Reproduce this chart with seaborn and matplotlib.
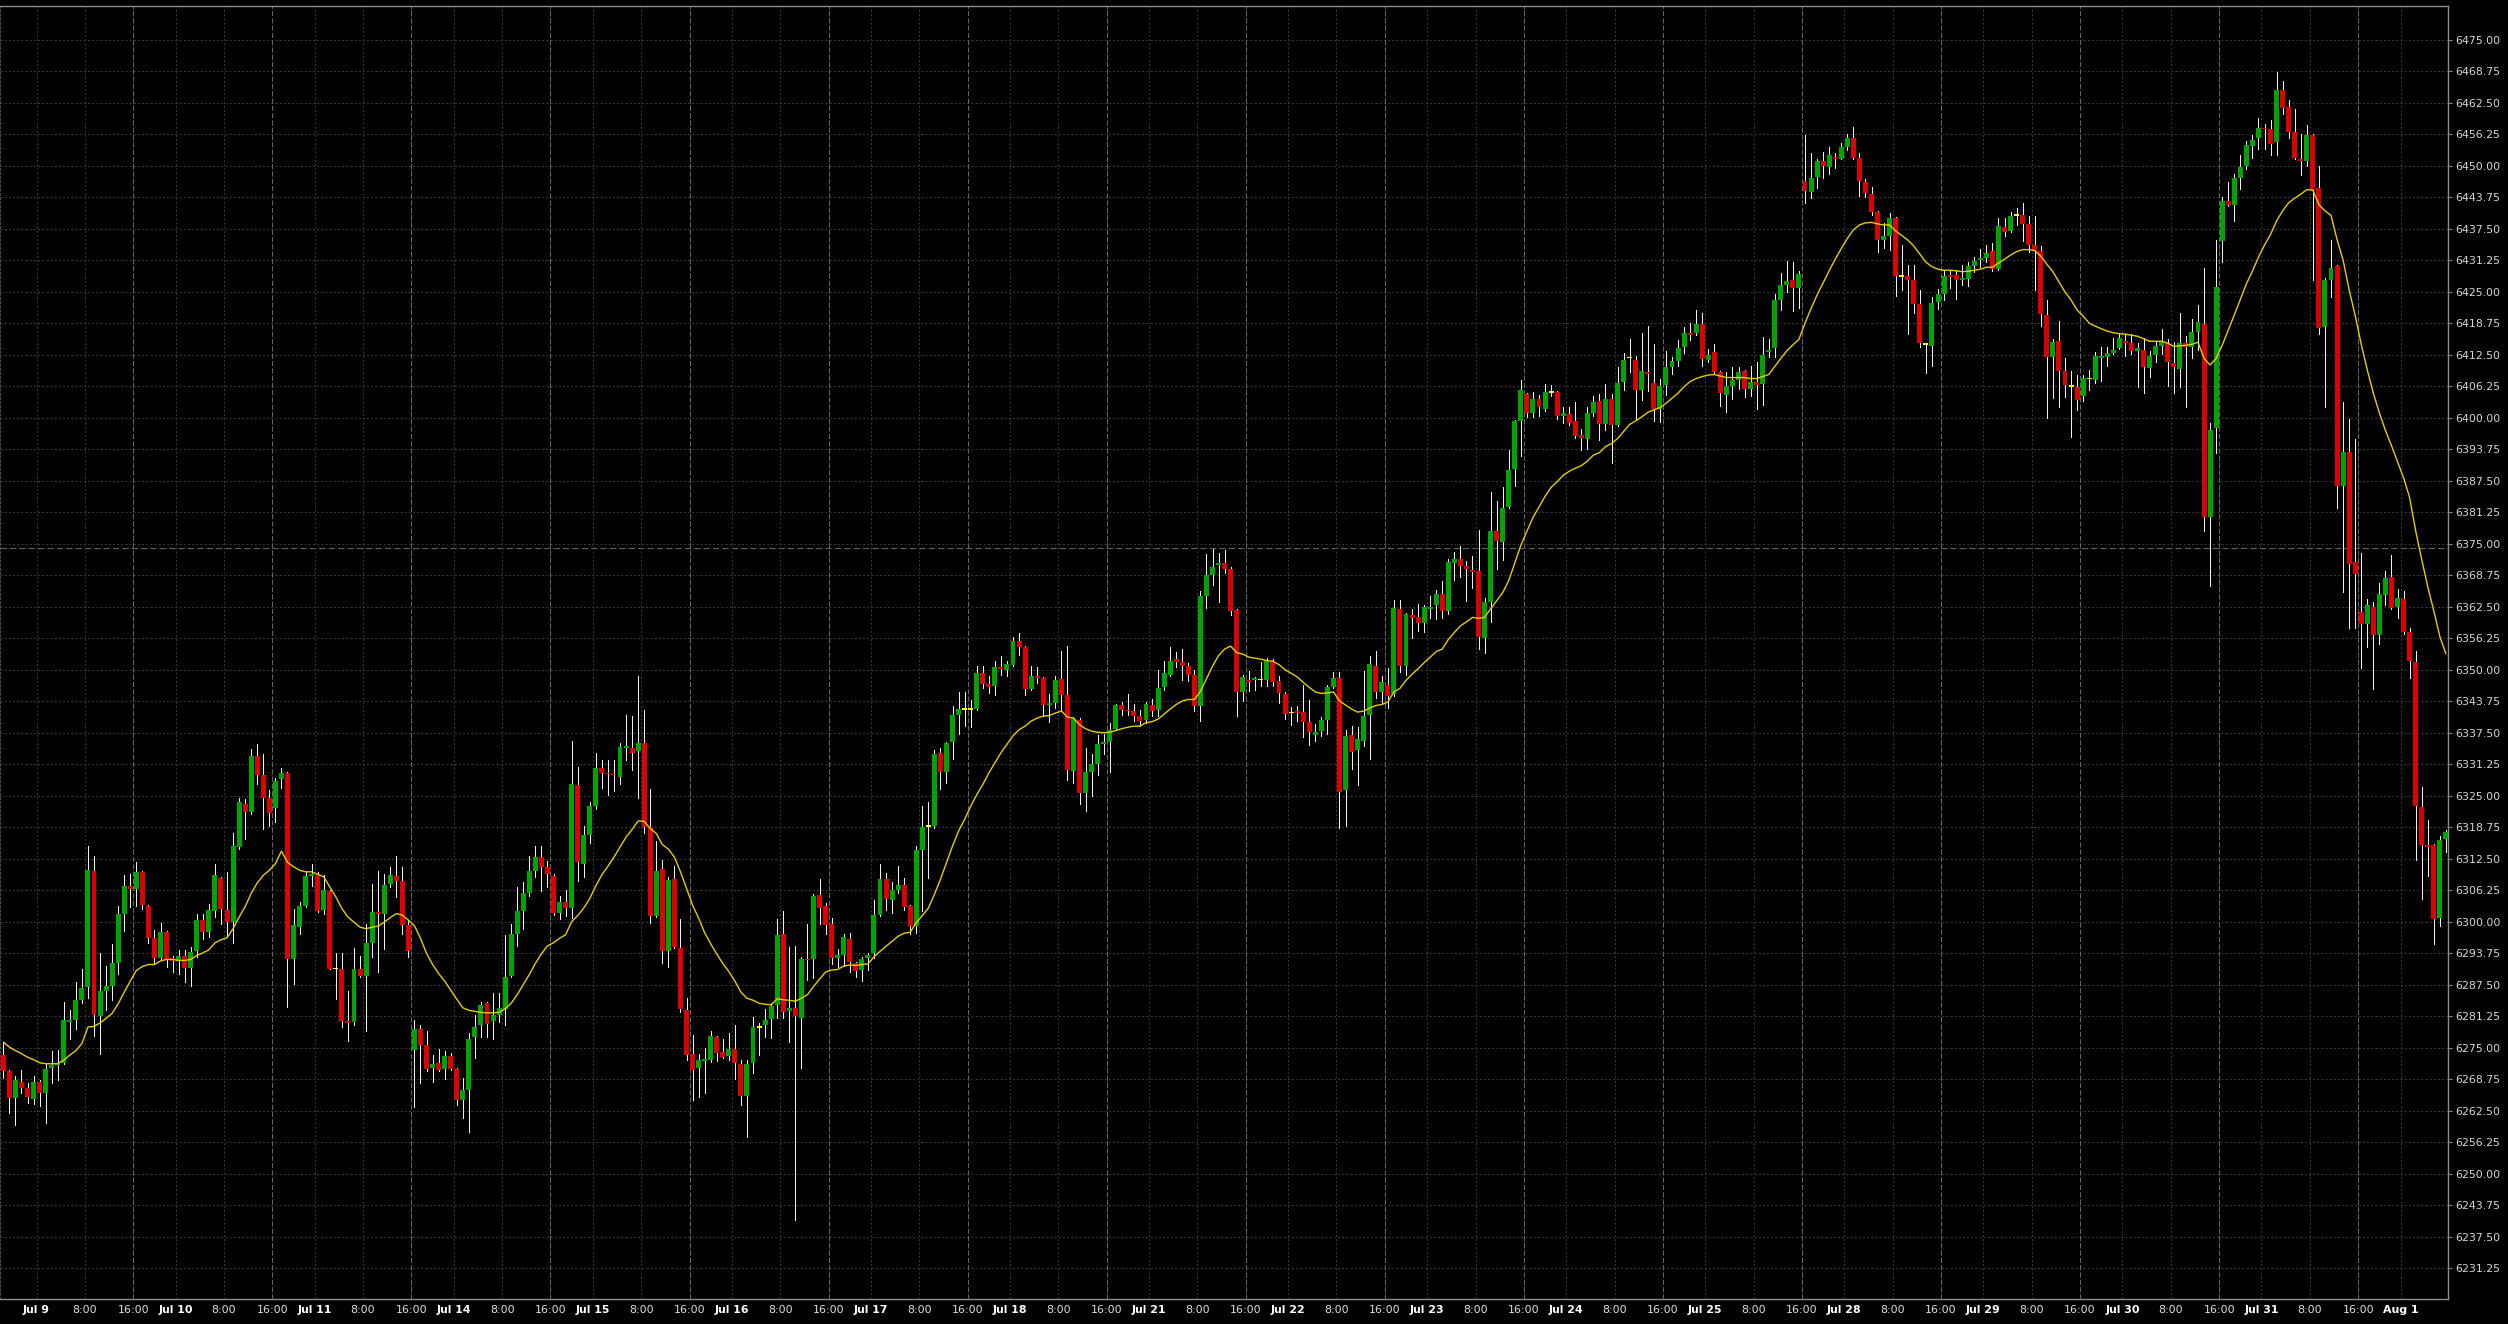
import numpy as np
import pandas as pd
import matplotlib
matplotlib.use("Agg")
import matplotlib.pyplot as plt
import seaborn as sns

# hourly candles, session 17:00-16:00; first bar is Jul 8 18:00
session_days = ['Jul 9', 'Jul 10', 'Jul 11', 'Jul 14', 'Jul 15', 'Jul 16', 'Jul 17', 'Jul 18', 'Jul 21',
                'Jul 22', 'Jul 23', 'Jul 24', 'Jul 25', 'Jul 28', 'Jul 29', 'Jul 30', 'Jul 31', 'Aug 1']
bars_before_first_day = 6
bars_per_session = 23

opens = [
    6273.5, 6270.3, 6265.0, 6268.1, 6266.9, 6264.8, 6268.1, 6265.9, 6271.0, 6271.6,
    6272.0, 6280.1, 6280.4, 6284.4, 6287.0, 6310.0, 6281.3, 6286.2, 6287.2, 6291.7,
    6301.5, 6307.0, 6306.4, 6309.8, 6303.2, 6296.8, 6292.8, 6297.9, 6292.7, 6292.2,
    6293.1, 6290.9, 6294.2, 6300.4, 6297.9, 6302.1, 6308.7, 6302.3, 6299.9, 6314.8,
    6323.4, 6321.7, 6332.8, 6329.2, 6324.5, 6322.6, 6328.3, 6329.6, 6292.6, 6298.9,
    6303.2, 6309.0, 6309.2, 6302.3, 6306.0, 6290.6, 6290.7, 6280.3, 6280.1, 6290.6,
    6289.2, 6295.8, 6302.0, 6301.5, 6307.4, 6309.0, 6308.0, 6299.3, 6274.5, 6278.6,
    6275.6, 6271.0, 6271.9, 6270.8, 6273.4, 6270.8, 6264.6, 6266.6, 6277.1, 6279.4,
    6283.8, 6280.2, 6281.4, 6282.7, 6289.3, 6297.5, 6302.2, 6305.7, 6310.0, 6312.9,
    6310.8, 6309.0, 6301.8, 6304.0, 6302.7, 6327.1, 6311.5, 6317.2, 6322.9, 6330.4,
    6329.6, 6329.4, 6328.8, 6334.5, 6334.4, 6333.9, 6335.4, 6318.8, 6301.2, 6310.4,
    6294.1, 6308.4, 6294.8, 6282.5, 6273.8, 6270.9, 6272.3, 6272.5, 6277.2, 6274.1,
    6273.4, 6274.7, 6271.7, 6265.4, 6271.9, 6278.9, 6279.4, 6280.7, 6283.5, 6297.5,
    6282.2, 6282.9, 6280.8, 6292.6, 6292.6, 6305.3, 6303.2, 6299.6, 6292.7, 6293.4,
    6296.6, 6291.7, 6290.4, 6292.7, 6293.7, 6301.4, 6308.5, 6304.3, 6306.3, 6307.2,
    6303.2, 6299.1, 6314.3, 6318.8, 6319.0, 6333.4, 6329.7, 6335.6, 6341.1, 6342.1,
    6342.1, 6342.3, 6349.4, 6347.1, 6346.7, 6350.6, 6349.9, 6350.9, 6355.8, 6354.5,
    6346.1, 6348.7, 6348.4, 6343.0, 6343.4, 6348.1, 6344.9, 6329.9, 6340.1, 6325.6,
    6329.8, 6331.2, 6335.2, 6335.6, 6338.3, 6343.0, 6342.1, 6341.9, 6340.9, 6340.0,
    6343.1, 6342.1, 6346.5, 6349.0, 6352.2, 6351.6, 6350.8, 6349.0, 6342.8, 6364.7,
    6368.8, 6370.7, 6371.1, 6370.0, 6361.9, 6345.6, 6347.9, 6347.9, 6347.9, 6347.9,
    6351.6, 6347.7, 6345.1, 6341.4, 6341.8, 6341.6, 6339.7, 6337.1, 6337.8, 6340.0,
    6346.5, 6348.4, 6326.2, 6337.1, 6334.0, 6335.8, 6341.1, 6350.8, 6345.6, 6347.0,
    6345.1, 6362.1, 6350.8, 6360.9, 6360.5, 6359.2, 6362.1, 6362.8, 6365.1, 6361.6,
    6371.1, 6371.9, 6370.5, 6369.8, 6369.6, 6356.4, 6363.5, 6377.5, 6375.4, 6382.3,
    6389.8, 6399.4, 6404.7, 6401.0, 6403.8, 6401.8, 6405.0, 6405.2, 6400.4, 6400.8,
    6399.4, 6396.5, 6395.9, 6401.0, 6403.4, 6398.7, 6403.8, 6398.5, 6407.2, 6411.8,
    6411.4, 6405.5, 6409.1, 6407.0, 6401.8, 6406.5, 6410.0, 6411.3, 6414.0, 6416.8,
    6416.8, 6418.6, 6411.5, 6413.0, 6409.2, 6404.5, 6406.3, 6407.5, 6409.3, 6405.7,
    6407.2, 6406.7, 6413.0, 6413.9, 6423.4, 6426.4, 6427.4, 6425.8, 6447.0, 6444.9,
    6447.9, 6451.0, 6449.8, 6451.8, 6451.4, 6453.8, 6455.5, 6451.6, 6446.9, 6444.5,
    6440.9, 6435.3, 6436.1, 6439.7, 6428.0, 6428.2, 6427.4, 6422.6, 6414.5, 6414.3,
    6422.9, 6424.6, 6428.3, 6428.3, 6427.4, 6427.5, 6430.1, 6431.3, 6431.7, 6433.1,
    6429.5, 6437.9, 6437.1, 6440.1, 6440.3, 6438.5, 6434.3, 6433.1, 6420.4, 6412.1,
    6415.2, 6409.3, 6406.2, 6406.1, 6404.4, 6407.7, 6407.5, 6411.9, 6412.1, 6412.8,
    6413.9, 6415.2, 6414.9, 6413.3, 6413.4, 6409.9, 6412.5, 6414.2, 6414.9, 6410.9,
    6409.6, 6414.8, 6414.1, 6417.1, 6418.7, 6380.4, 6397.9, 6435.1, 6443.0, 6442.2,
    6447.6, 6449.9, 6453.9, 6455.6, 6457.6, 6457.3, 6454.8, 6465.0, 6461.8, 6456.7,
    6451.4, 6451.0, 6456.1, 6445.6, 6418.0, 6427.3, 6430.2, 6386.5, 6393.2, 6371.4,
    6361.5, 6359.1, 6362.5, 6356.8, 6364.9, 6368.5, 6362.5, 6364.0, 6357.5, 6351.6,
    6322.8, 6315.3, 6315.3, 6300.8, 6316.4,
]
highs = [
    6276.1, 6270.5, 6269.3, 6270.6, 6268.0, 6269.4, 6268.6, 6271.8, 6274.3, 6274.5,
    6284.0, 6282.4, 6288.0, 6290.7, 6315.1, 6313.0, 6293.7, 6291.2, 6295.6, 6303.2,
    6309.3, 6309.5, 6311.8, 6310.1, 6303.4, 6298.3, 6299.7, 6298.1, 6293.1, 6294.3,
    6294.4, 6295.0, 6301.5, 6301.5, 6303.6, 6311.4, 6308.9, 6309.9, 6317.5, 6324.5,
    6324.4, 6334.3, 6335.3, 6333.3, 6326.1, 6328.6, 6330.4, 6329.8, 6302.5, 6304.0,
    6309.9, 6311.4, 6309.9, 6309.2, 6306.2, 6293.8, 6293.7, 6286.2, 6294.8, 6293.1,
    6299.6, 6307.5, 6310.0, 6309.4, 6310.9, 6313.0, 6310.9, 6300.3, 6280.5, 6279.4,
    6278.3, 6273.6, 6274.7, 6274.3, 6274.0, 6271.0, 6269.0, 6277.8, 6281.4, 6284.1,
    6284.1, 6285.8, 6285.8, 6297.4, 6299.6, 6306.8, 6307.8, 6313.0, 6315.0, 6315.0,
    6312.0, 6309.5, 6305.1, 6306.3, 6335.8, 6330.6, 6318.9, 6323.8, 6333.4, 6332.1,
    6332.0, 6332.1, 6335.5, 6341.1, 6340.8, 6348.8, 6342.1, 6326.4, 6316.0, 6312.2,
    6308.8, 6311.0, 6300.6, 6284.9, 6277.6, 6273.8, 6275.0, 6278.2, 6277.4, 6276.7,
    6277.9, 6279.5, 6272.6, 6272.5, 6281.1, 6279.8, 6282.6, 6283.8, 6300.5, 6302.1,
    6295.0, 6295.1, 6292.9, 6299.6, 6305.5, 6308.5, 6303.7, 6300.8, 6294.6, 6297.5,
    6297.8, 6292.0, 6293.0, 6293.8, 6304.3, 6311.5, 6309.6, 6307.9, 6311.1, 6308.6,
    6303.3, 6315.1, 6322.9, 6323.7, 6334.0, 6334.5, 6335.6, 6342.9, 6345.6, 6345.5,
    6343.9, 6350.8, 6350.7, 6348.7, 6351.8, 6352.8, 6351.8, 6356.5, 6357.2, 6354.8,
    6350.8, 6350.5, 6348.5, 6345.1, 6348.8, 6353.7, 6354.8, 6340.6, 6340.4, 6334.4,
    6333.2, 6337.1, 6337.3, 6339.5, 6343.3, 6343.6, 6345.1, 6343.3, 6342.1, 6343.6,
    6344.2, 6349.9, 6351.7, 6354.5, 6353.6, 6354.2, 6351.4, 6350.0, 6365.7, 6372.9,
    6374.0, 6373.1, 6373.8, 6370.4, 6362.0, 6348.9, 6349.8, 6348.6, 6351.6, 6352.3,
    6352.1, 6348.8, 6345.6, 6342.7, 6342.8, 6347.0, 6344.0, 6339.3, 6340.7, 6347.0,
    6349.5, 6349.5, 6338.1, 6338.8, 6338.6, 6349.8, 6352.8, 6353.8, 6348.8, 6350.3,
    6363.9, 6363.9, 6361.3, 6362.1, 6363.0, 6362.8, 6364.6, 6365.8, 6367.7, 6371.9,
    6373.4, 6374.5, 6371.5, 6372.6, 6377.8, 6364.2, 6385.3, 6383.4, 6386.2, 6393.7,
    6399.6, 6407.5, 6404.9, 6405.2, 6404.6, 6406.7, 6406.6, 6405.3, 6402.2, 6402.2,
    6403.1, 6397.8, 6402.2, 6404.3, 6404.7, 6406.7, 6404.7, 6410.0, 6412.8, 6415.6,
    6412.3, 6416.8, 6418.2, 6414.6, 6407.8, 6413.3, 6412.1, 6415.4, 6418.1, 6418.9,
    6421.4, 6420.9, 6413.6, 6414.6, 6409.3, 6409.2, 6410.0, 6410.0, 6409.4, 6410.3,
    6411.0, 6416.0, 6415.6, 6424.6, 6428.7, 6431.1, 6431.0, 6429.2, 6456.1, 6452.6,
    6451.3, 6452.8, 6453.7, 6452.6, 6454.6, 6456.3, 6457.8, 6452.6, 6447.4, 6445.9,
    6441.0, 6438.6, 6440.6, 6439.9, 6434.3, 6430.3, 6430.3, 6425.4, 6414.8, 6423.9,
    6425.5, 6429.1, 6429.2, 6429.2, 6430.3, 6431.0, 6432.0, 6433.6, 6434.3, 6434.8,
    6439.7, 6439.7, 6440.9, 6441.6, 6442.6, 6440.0, 6440.0, 6434.2, 6423.4, 6415.6,
    6419.2, 6411.8, 6409.3, 6408.5, 6408.5, 6409.5, 6413.1, 6414.1, 6414.1, 6415.9,
    6416.7, 6416.7, 6416.7, 6414.8, 6415.9, 6413.2, 6415.2, 6417.6, 6415.7, 6415.0,
    6420.9, 6416.2, 6419.7, 6422.4, 6429.8, 6398.9, 6435.3, 6443.9, 6446.8, 6448.4,
    6452.1, 6455.0, 6456.1, 6459.5, 6458.4, 6459.2, 6468.6, 6466.9, 6463.0, 6461.3,
    6456.4, 6458.1, 6456.4, 6449.9, 6427.7, 6435.3, 6430.4, 6403.2, 6399.8, 6395.8,
    6373.1, 6364.0, 6363.4, 6367.2, 6369.7, 6372.7, 6366.0, 6365.7, 6358.3, 6353.7,
    6326.7, 6320.2, 6315.5, 6317.1, 6318.2,
]
lows = [
    6268.9, 6262.0, 6259.7, 6265.9, 6264.0, 6263.9, 6263.4, 6260.1, 6267.9, 6268.5,
    6271.7, 6276.8, 6278.6, 6283.9, 6284.9, 6277.3, 6273.8, 6282.4, 6284.4, 6289.7,
    6298.1, 6302.9, 6303.2, 6302.6, 6295.8, 6291.7, 6292.3, 6291.0, 6290.0, 6289.7,
    6288.0, 6287.2, 6293.0, 6296.6, 6297.0, 6300.9, 6299.6, 6297.0, 6295.8, 6314.5,
    6316.4, 6321.4, 6327.4, 6318.4, 6318.9, 6319.8, 6326.5, 6283.1, 6287.6, 6297.6,
    6302.9, 6307.0, 6301.9, 6301.6, 6290.6, 6284.7, 6279.0, 6276.3, 6279.4, 6289.0,
    6278.3, 6293.0, 6290.0, 6294.6, 6306.9, 6304.9, 6297.6, 6293.0, 6263.2, 6267.9,
    6270.4, 6268.1, 6270.3, 6268.8, 6270.6, 6263.7, 6261.1, 6258.2, 6272.9, 6277.2,
    6277.2, 6276.7, 6280.0, 6279.4, 6289.0, 6295.2, 6298.6, 6305.1, 6308.9, 6306.0,
    6306.9, 6301.4, 6300.5, 6301.2, 6300.7, 6308.0, 6308.8, 6315.6, 6322.3, 6326.6,
    6325.2, 6326.0, 6327.4, 6332.1, 6330.1, 6324.5, 6317.5, 6299.7, 6301.0, 6291.7,
    6291.0, 6294.8, 6282.0, 6272.5, 6264.6, 6265.2, 6265.9, 6272.1, 6272.3, 6272.9,
    6272.5, 6268.8, 6263.7, 6257.2, 6269.9, 6273.6, 6277.2, 6277.0, 6280.9, 6280.9,
    6276.1, 6240.8, 6270.9, 6288.5, 6288.8, 6299.6, 6297.5, 6291.5, 6291.0, 6291.2,
    6290.0, 6289.1, 6288.2, 6290.5, 6292.8, 6301.1, 6302.3, 6301.8, 6305.7, 6302.4,
    6297.5, 6297.7, 6302.1, 6308.7, 6318.6, 6326.4, 6327.5, 6332.2, 6337.3, 6338.8,
    6338.7, 6342.1, 6346.4, 6345.4, 6344.9, 6348.9, 6348.7, 6350.7, 6353.0, 6344.9,
    6345.9, 6347.4, 6340.9, 6339.6, 6342.4, 6342.1, 6328.2, 6327.5, 6323.4, 6321.9,
    6324.9, 6329.2, 6333.2, 6329.7, 6338.1, 6341.1, 6341.1, 6339.9, 6338.8, 6339.5,
    6340.9, 6340.9, 6345.9, 6348.7, 6350.5, 6347.9, 6347.7, 6341.8, 6339.8, 6362.3,
    6366.9, 6363.4, 6369.2, 6360.9, 6340.9, 6343.7, 6345.8, 6346.0, 6346.8, 6346.7,
    6346.7, 6343.5, 6340.2, 6339.0, 6339.9, 6336.7, 6335.1, 6335.8, 6336.9, 6337.2,
    6346.3, 6318.5, 6319.0, 6330.3, 6327.2, 6334.9, 6332.2, 6344.4, 6343.4, 6342.5,
    6344.7, 6349.6, 6348.9, 6356.4, 6357.6, 6357.4, 6360.2, 6360.1, 6360.3, 6361.0,
    6367.9, 6368.4, 6363.7, 6366.2, 6354.1, 6353.4, 6359.4, 6369.9, 6371.7, 6382.2,
    6386.5, 6392.4, 6400.2, 6400.2, 6400.4, 6401.4, 6404.3, 6399.7, 6398.9, 6398.5,
    6396.1, 6393.6, 6393.8, 6400.4, 6395.6, 6397.6, 6391.0, 6398.3, 6405.6, 6409.1,
    6399.7, 6403.6, 6405.4, 6399.4, 6399.2, 6404.5, 6408.8, 6410.2, 6412.9, 6415.4,
    6416.4, 6410.3, 6411.1, 6408.8, 6402.4, 6401.2, 6403.7, 6405.7, 6404.1, 6404.4,
    6401.7, 6402.6, 6412.0, 6412.1, 6421.4, 6425.0, 6421.2, 6421.9, 6442.7, 6443.7,
    6445.7, 6447.7, 6448.5, 6449.6, 6451.3, 6453.1, 6451.3, 6444.0, 6443.8, 6440.3,
    6433.0, 6433.8, 6433.3, 6424.2, 6425.4, 6416.6, 6420.9, 6414.0, 6409.0, 6410.3,
    6421.6, 6423.3, 6425.7, 6423.6, 6426.4, 6426.2, 6429.0, 6430.0, 6431.0, 6429.1,
    6429.3, 6436.1, 6436.9, 6438.3, 6435.2, 6433.0, 6425.4, 6418.2, 6399.9, 6404.0,
    6402.2, 6404.2, 6396.2, 6401.5, 6403.4, 6405.6, 6406.9, 6407.3, 6410.3, 6412.6,
    6413.6, 6412.2, 6412.6, 6406.2, 6405.0, 6408.1, 6411.1, 6412.6, 6406.4, 6405.0,
    6406.2, 6402.2, 6411.9, 6413.4, 6377.6, 6366.7, 6393.1, 6431.0, 6442.0, 6439.1,
    6445.5, 6449.3, 6451.6, 6453.3, 6453.3, 6452.1, 6452.1, 6460.3, 6455.6, 6451.4,
    6448.2, 6449.9, 6427.3, 6416.7, 6402.1, 6423.9, 6382.2, 6365.5, 6358.3, 6358.3,
    6350.3, 6354.6, 6346.1, 6355.2, 6362.8, 6362.0, 6360.3, 6357.1, 6348.4, 6312.2,
    6304.5, 6309.0, 6295.5, 6299.1, 6313.9,
]
closes = [
    6270.4, 6265.0, 6268.5, 6267.0, 6265.2, 6268.1, 6265.9, 6270.8, 6271.6, 6272.0,
    6280.4, 6280.4, 6284.4, 6286.8, 6310.2, 6281.4, 6286.2, 6287.2, 6291.7, 6301.5,
    6307.0, 6306.4, 6309.8, 6303.4, 6296.8, 6292.8, 6297.9, 6292.6, 6292.2, 6293.1,
    6290.9, 6293.9, 6300.3, 6297.9, 6302.3, 6309.2, 6302.5, 6299.9, 6315.0, 6323.7,
    6321.7, 6332.8, 6329.2, 6324.5, 6321.6, 6328.0, 6329.6, 6292.6, 6299.3, 6303.2,
    6309.0, 6309.4, 6302.1, 6306.2, 6290.7, 6290.6, 6280.3, 6279.9, 6290.7, 6289.2,
    6295.8, 6302.0, 6301.5, 6307.3, 6309.2, 6308.0, 6299.3, 6294.2, 6278.6, 6275.6,
    6270.8, 6271.7, 6270.6, 6273.4, 6270.8, 6264.6, 6266.6, 6276.7, 6279.1, 6283.5,
    6279.6, 6281.4, 6282.9, 6289.0, 6297.5, 6302.2, 6305.6, 6310.0, 6312.8, 6310.8,
    6309.5, 6301.8, 6304.0, 6302.7, 6327.3, 6311.8, 6317.2, 6322.9, 6330.4, 6329.5,
    6329.3, 6329.1, 6334.6, 6334.8, 6333.5, 6335.4, 6318.8, 6301.2, 6310.1, 6294.1,
    6308.2, 6295.0, 6282.6, 6273.6, 6270.6, 6272.6, 6272.7, 6277.3, 6274.0, 6273.1,
    6274.7, 6272.0, 6265.4, 6271.7, 6279.1, 6278.9, 6280.5, 6283.3, 6297.4, 6282.0,
    6282.9, 6281.3, 6292.6, 6292.3, 6305.1, 6302.7, 6299.4, 6292.7, 6293.4, 6296.9,
    6292.0, 6290.2, 6292.6, 6293.3, 6301.4, 6308.5, 6304.5, 6306.2, 6307.2, 6302.9,
    6299.1, 6314.3, 6318.8, 6318.8, 6333.2, 6329.7, 6335.4, 6341.1, 6342.2, 6342.1,
    6342.1, 6349.4, 6347.1, 6346.5, 6350.5, 6350.2, 6351.2, 6355.8, 6354.5, 6346.1,
    6348.8, 6348.3, 6343.0, 6343.4, 6347.9, 6344.9, 6330.2, 6340.2, 6325.6, 6329.8,
    6331.2, 6335.2, 6335.6, 6338.1, 6343.0, 6342.1, 6341.8, 6340.8, 6339.9, 6343.3,
    6341.9, 6346.4, 6349.4, 6351.8, 6351.5, 6350.7, 6348.9, 6342.8, 6364.7, 6368.8,
    6370.4, 6371.1, 6370.0, 6361.6, 6345.6, 6348.6, 6347.5, 6348.4, 6347.9, 6351.7,
    6347.5, 6345.4, 6341.3, 6341.4, 6341.4, 6339.7, 6337.6, 6337.6, 6340.0, 6346.6,
    6348.4, 6325.7, 6336.9, 6333.6, 6336.3, 6340.9, 6351.2, 6345.6, 6347.5, 6344.7,
    6362.3, 6350.8, 6361.1, 6360.3, 6359.2, 6362.5, 6362.5, 6365.1, 6361.6, 6371.4,
    6372.0, 6370.5, 6369.9, 6369.5, 6356.6, 6363.5, 6377.5, 6375.5, 6382.1, 6389.6,
    6399.4, 6405.6, 6401.0, 6403.8, 6402.2, 6405.2, 6405.0, 6400.4, 6401.0, 6399.0,
    6396.4, 6396.0, 6401.0, 6403.1, 6398.7, 6403.8, 6398.5, 6407.0, 6411.4, 6411.8,
    6405.6, 6409.3, 6408.8, 6401.8, 6406.3, 6410.0, 6411.3, 6413.9, 6416.8, 6416.4,
    6418.6, 6411.6, 6412.5, 6409.2, 6404.9, 6406.3, 6407.5, 6409.2, 6405.7, 6407.2,
    6406.5, 6412.5, 6413.5, 6423.4, 6426.4, 6427.2, 6425.8, 6428.5, 6445.0, 6447.6,
    6451.0, 6450.0, 6452.2, 6451.4, 6453.7, 6455.5, 6451.6, 6447.1, 6444.7, 6440.9,
    6435.3, 6436.1, 6439.7, 6428.2, 6428.0, 6427.4, 6422.6, 6414.9, 6414.5, 6422.7,
    6424.6, 6428.2, 6428.0, 6427.4, 6427.7, 6430.1, 6431.1, 6431.7, 6432.8, 6429.5,
    6438.1, 6436.9, 6440.0, 6440.1, 6438.4, 6434.3, 6433.1, 6420.7, 6412.1, 6415.1,
    6409.3, 6406.5, 6406.2, 6403.5, 6407.9, 6407.7, 6412.2, 6412.2, 6412.9, 6413.4,
    6415.8, 6414.9, 6413.3, 6413.8, 6410.1, 6412.2, 6414.2, 6415.1, 6411.1, 6410.0,
    6414.8, 6414.1, 6417.1, 6419.1, 6380.4, 6397.6, 6425.9, 6443.0, 6442.2, 6447.6,
    6449.8, 6454.1, 6455.2, 6457.6, 6457.3, 6454.4, 6465.0, 6461.6, 6456.7, 6451.6,
    6451.0, 6456.1, 6445.3, 6417.8, 6427.3, 6429.7, 6386.5, 6393.2, 6371.0, 6369.1,
    6359.1, 6362.8, 6356.8, 6365.1, 6368.2, 6362.3, 6364.3, 6357.5, 6351.8, 6323.0,
    6315.3, 6314.8, 6300.6, 6316.2, 6317.7,
]
moving_avg = [
    6276.1, 6275.1, 6274.4, 6273.8, 6273.1, 6272.6, 6272.0, 6271.8, 6271.8, 6271.8,
    6272.5, 6273.5, 6274.4, 6275.8, 6279.1, 6279.2, 6279.9, 6280.8, 6281.8, 6283.7,
    6286.0, 6288.2, 6290.3, 6291.1, 6291.5, 6291.5, 6292.2, 6292.5, 6292.5, 6292.3,
    6292.3, 6292.5, 6293.3, 6293.8, 6294.4, 6295.8, 6296.4, 6296.8, 6298.6, 6300.9,
    6303.0, 6305.6, 6307.7, 6309.2, 6310.2, 6311.5, 6314.0, 6311.8, 6310.9, 6310.2,
    6309.9, 6309.9, 6309.4, 6308.9, 6306.9, 6304.9, 6302.6, 6300.9, 6299.9, 6298.9,
    6298.6, 6298.9, 6299.1, 6299.9, 6300.8, 6301.6, 6301.3, 6300.3, 6299.2, 6296.7,
    6293.7, 6291.5, 6289.7, 6288.2, 6286.4, 6284.6, 6282.9, 6282.4, 6282.2, 6282.0,
    6281.9, 6281.9, 6282.0, 6282.7, 6283.8, 6285.5, 6287.5, 6289.5, 6291.7, 6293.6,
    6295.2, 6295.8, 6296.7, 6297.4, 6300.0, 6301.2, 6302.7, 6304.6, 6307.1, 6309.3,
    6311.0, 6312.8, 6314.8, 6316.8, 6318.3, 6320.0, 6319.9, 6318.5, 6317.5, 6315.3,
    6314.4, 6312.8, 6309.9, 6306.6, 6303.3, 6300.7, 6297.8, 6295.6, 6293.6, 6291.7,
    6290.1, 6288.2, 6286.0, 6284.8, 6284.4, 6283.8, 6283.6, 6283.5, 6284.7, 6284.5,
    6284.4, 6284.2, 6284.8, 6285.5, 6287.1, 6288.6, 6290.0, 6290.4, 6290.5, 6291.2,
    6291.4, 6291.3, 6291.5, 6291.6, 6293.0, 6294.1, 6295.1, 6296.1, 6297.1, 6297.7,
    6297.9, 6299.8, 6301.2, 6302.7, 6305.4, 6308.4, 6311.7, 6315.0, 6318.0, 6320.3,
    6322.9, 6325.2, 6327.2, 6329.5, 6331.5, 6333.5, 6335.2, 6336.9, 6338.1, 6338.8,
    6339.8, 6340.4, 6340.8, 6340.9, 6341.4, 6341.8, 6340.6, 6340.4, 6339.1, 6338.3,
    6337.8, 6337.6, 6337.5, 6337.6, 6337.9, 6338.3, 6338.6, 6338.8, 6338.8, 6339.5,
    6339.7, 6340.2, 6341.2, 6342.2, 6343.1, 6343.8, 6344.1, 6344.1, 6345.7, 6348.2,
    6350.7, 6352.8, 6354.1, 6354.7, 6353.4, 6353.1, 6352.5, 6352.3, 6352.1, 6351.8,
    6351.7, 6351.0, 6350.0, 6349.3, 6348.6, 6347.5, 6346.5, 6345.6, 6345.3, 6345.4,
    6345.6, 6343.8, 6343.0, 6342.2, 6341.6, 6341.8, 6342.4, 6342.9, 6343.1, 6343.6,
    6345.6, 6346.3, 6347.9, 6349.1, 6350.2, 6351.4, 6352.5, 6353.6, 6354.1, 6356.0,
    6357.4, 6358.7, 6359.5, 6360.4, 6360.2, 6360.4, 6362.1, 6363.7, 6365.3, 6367.7,
    6371.2, 6374.7, 6377.5, 6380.2, 6382.3, 6384.4, 6386.2, 6387.3, 6388.6, 6389.4,
    6390.0, 6390.5, 6391.4, 6392.6, 6393.1, 6394.3, 6394.9, 6395.9, 6397.3, 6398.7,
    6399.4, 6400.2, 6401.1, 6401.6, 6402.0, 6402.9, 6403.9, 6404.9, 6406.2, 6407.2,
    6407.8, 6408.2, 6408.5, 6408.6, 6408.3, 6408.0, 6408.0, 6408.0, 6408.0, 6407.8,
    6407.8, 6408.2, 6408.6, 6410.2, 6411.8, 6413.3, 6414.5, 6415.6, 6418.8, 6421.7,
    6424.4, 6426.8, 6429.2, 6431.5, 6433.6, 6435.6, 6437.3, 6438.3, 6438.7, 6438.8,
    6438.5, 6438.3, 6438.3, 6437.1, 6436.2, 6435.3, 6434.1, 6432.5, 6430.9, 6430.0,
    6429.5, 6429.3, 6429.3, 6429.2, 6429.0, 6429.1, 6429.3, 6429.5, 6429.9, 6429.9,
    6430.7, 6431.5, 6432.3, 6433.0, 6433.4, 6433.4, 6433.2, 6432.1, 6430.5, 6429.0,
    6427.0, 6425.0, 6423.4, 6421.4, 6420.2, 6418.8, 6418.2, 6417.7, 6417.2, 6416.9,
    6416.7, 6416.6, 6416.4, 6416.2, 6415.7, 6415.2, 6415.2, 6415.2, 6414.8, 6414.2,
    6414.3, 6414.4, 6414.6, 6415.0, 6411.8, 6410.5, 6411.8, 6414.4, 6417.4, 6420.4,
    6423.5, 6426.6, 6429.1, 6431.9, 6434.3, 6436.4, 6439.1, 6441.1, 6442.7, 6443.6,
    6444.4, 6445.3, 6445.2, 6442.3, 6441.1, 6440.2, 6435.4, 6431.3, 6425.4, 6420.3,
    6414.6, 6409.5, 6404.9, 6401.0, 6397.5, 6394.5, 6391.3, 6388.1, 6384.2, 6377.6,
    6371.9, 6366.5, 6361.7, 6356.6, 6353.2,
]
level_line = 6374.25

df = pd.DataFrame({'open': opens, 'high': highs, 'low': lows, 'close': closes, 'ma': moving_avg})
df['bar'] = np.arange(len(df))

sns.set_style('dark', rc={'axes.facecolor': '#000000', 'figure.facecolor': '#000000'})
plt.rcParams['font.family'] = ['DejaVu Sans']

W, H = 2508, 1324
fig = plt.figure(figsize=(W / 100, H / 100), dpi=100)
ax = fig.add_axes([0, 25 / H, 2448.3 / W, 1293 / H])

# grid
yticks = np.arange(6231.25, 6475.01, 6.25)
for y in yticks:
    ax.axhline(y, color='#363636', lw=0.75, dashes=(2, 2), zorder=0)
ax.axhline(level_line, color='#646464', lw=0.75, dashes=(6, 3), zorder=0)

xpos, xlab, xbold = [], [], []
for d, name in enumerate(session_days):
    start = bars_before_first_day + d * bars_per_session
    for off, text, bold in [(-0.5, name, True), (7.5, '8:00', False), (15.5, '16:00', False)]:
        if start + off < 404.4:
            xpos.append(start + off)
            xlab.append(text)
            xbold.append(bold)
for x, t in zip(xpos, xlab):
    if t == '16:00':
        ax.axvline(x, color='#646464', lw=0.75, dashes=(5, 2), zorder=0)
    else:
        ax.axvline(x, color='#363636', lw=0.75, dashes=(2, 2), zorder=0)

# candles
ax.vlines(df['bar'], df['low'], df['high'], colors='#f0f0f0', linewidth=0.6,
          antialiased=False, zorder=2)
body_low = np.minimum(df['open'], df['close'])
body_h = np.maximum((df['close'] - df['open']).abs(), 0.3)
colors = np.where(df['close'] > df['open'], '#00a400',
                  np.where(df['close'] < df['open'], '#dc0000', '#ffff00'))
ax.bar(df['bar'], body_h, bottom=body_low, width=0.82, color=colors, linewidth=0,
       antialiased=False, zorder=3)

sns.lineplot(data=df, x='bar', y='ma', color='#e2cf00', linewidth=1.0, estimator=None,
             legend=False, ax=ax, zorder=4)

ax.set_xlim(-0.55, 404.4)
ax.set_ylim(6225.1, 6481.75)
ax.set_xlabel('')
ax.set_ylabel('')

ax.yaxis.tick_right()
ax.set_yticks(yticks)
ax.set_yticklabels([f'{v:.2f}' for v in yticks])
ax.tick_params(axis='y', right=True, left=False, length=3, width=0.75, color='#8a8a8a',
               labelcolor='#d6d6d6', labelsize=7.9, pad=2)

ax.set_xticks(xpos)
ax.set_xticklabels(xlab)
ax.tick_params(axis='x', bottom=True, length=0, labelsize=7.9, pad=4.3, labelcolor='#e0e0e0')
for lbl, b in zip(ax.get_xticklabels(), xbold):
    if b:
        lbl.set_fontweight('bold')
        lbl.set_color('white')

for side in ['top', 'right', 'bottom']:
    ax.spines[side].set_visible(True)
    ax.spines[side].set_color('#8c8c8c')
    ax.spines[side].set_linewidth(1.0)
ax.spines['left'].set_visible(True)
ax.spines['left'].set_color('#4a4a4a')
ax.spines['left'].set_linestyle((0, (2, 2)))
ax.spines['left'].set_linewidth(0.75)
ax.grid(False)

fig.savefig('out.png', dpi=100, facecolor='#000000')
